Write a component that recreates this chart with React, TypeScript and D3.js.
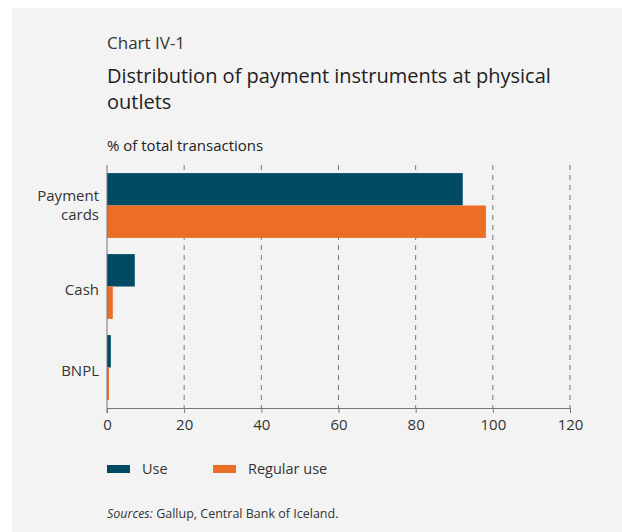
import React, { useRef, useEffect } from 'react';
import * as d3 from 'd3';

const categories = ['Payment cards', 'Cash', 'BNPL'];
const seriesNames = ['Use', 'Regular use'];
const useValues = [92.2, 7.2, 1.0];
const regularValues = [98.2, 1.5, 0.5];
const xTicks = [0, 20, 40, 60, 80, 100, 120];
const colors = ['#004a64', '#ec6e24'];

const WIDTH = 622;
const HEIGHT = 532;
const FONT = "'Open Sans', sans-serif";

const App: React.FC = () => {
  const svgRef = useRef<SVGSVGElement>(null);

  useEffect(() => {
    const svg = d3.select(svgRef.current);
    svg.selectAll('*').remove();

    // panel background
    svg.append('rect')
      .attr('x', 12).attr('y', 8)
      .attr('width', WIDTH - 12).attr('height', HEIGHT - 8)
      .attr('fill', '#f3f3f3');

    // titles
    svg.append('text')
      .attr('x', 107).attr('y', 49)
      .style('font-family', FONT).style('font-size', '17px')
      .style('fill', '#333')
      .text('Chart IV-1');

    svg.append('text')
      .attr('x', 107).attr('y', 83)
      .style('font-family', FONT).style('font-size', '20px')
      .style('fill', '#222')
      .text('Distribution of payment instruments at physical');
    svg.append('text')
      .attr('x', 107).attr('y', 109)
      .style('font-family', FONT).style('font-size', '20px')
      .style('fill', '#222')
      .text('outlets');

    svg.append('text')
      .attr('x', 107).attr('y', 151)
      .style('font-family', FONT).style('font-size', '15px')
      .style('fill', '#222')
      .text('% of total transactions');

    const margin = { top: 165, left: 107, right: 622 - 570, bottom: 532 - 408 };
    const innerWidth = WIDTH - margin.left - margin.right;
    const innerHeight = HEIGHT - margin.top - margin.bottom;

    const x = d3.scaleLinear().domain([0, 120]).range([0, innerWidth]);
    const y = d3.scaleBand<string>()
      .domain(categories)
      .range([0, innerHeight])
      .paddingInner(0.2)
      .paddingOuter(0.1);
    const ySub = d3.scaleBand<string>()
      .domain(seriesNames)
      .range([0, y.bandwidth()]);

    const g = svg.append('g')
      .attr('transform', `translate(${margin.left},${margin.top})`);

    // gridlines
    g.selectAll('.grid')
      .data(xTicks.filter(t => t > 0))
      .enter()
      .append('line')
      .attr('x1', d => x(d)).attr('x2', d => x(d))
      .attr('y1', 0).attr('y2', innerHeight)
      .attr('stroke', '#777')
      .attr('stroke-width', 1)
      .attr('stroke-dasharray', '5,5');

    // bars
    const rows = categories.map((c, i) => ({ c, vals: [useValues[i], regularValues[i]] }));
    rows.forEach(row => {
      row.vals.forEach((v, j) => {
        g.append('rect')
          .attr('x', x(0))
          .attr('y', (y(row.c) || 0) + (ySub(seriesNames[j]) || 0))
          .attr('width', x(v) - x(0))
          .attr('height', ySub.bandwidth())
          .attr('fill', colors[j]);
      });
    });

    // y axis line
    g.append('line')
      .attr('x1', x(0)).attr('x2', x(0))
      .attr('y1', 0).attr('y2', innerHeight + 5)
      .attr('stroke', '#777').attr('stroke-width', 1);

    // x axis
    const xAxis = g.append('g')
      .attr('transform', `translate(0,${innerHeight})`)
      .call(d3.axisBottom(x).tickValues(xTicks).tickSize(5).tickPadding(6).tickSizeOuter(0));
    xAxis.select('.domain').attr('stroke', '#777');
    xAxis.selectAll('.tick line').attr('stroke', '#777');
    xAxis.selectAll('.tick text')
      .style('font-family', FONT).style('font-size', '15px')
      .attr('fill', '#333');

    // category labels
    categories.forEach(c => {
      const words = c.split(' ');
      const cy = (y(c) || 0) + y.bandwidth() / 2;
      const t = g.append('text')
        .attr('text-anchor', 'end')
        .style('font-family', FONT).style('font-size', '15px')
        .style('fill', '#333');
      const lh = 19;
      const shift = words.length === 1 ? 3 : 0;
      words.forEach((w, i) => {
        t.append('tspan')
          .attr('x', -8)
          .attr('y', cy + 5 + shift + (i - (words.length - 1) / 2) * lh)
          .text(w);
      });
    });

    // legend
    const legendX = [107, 213];
    seriesNames.forEach((s, i) => {
      svg.append('rect')
        .attr('x', legendX[i]).attr('y', 465)
        .attr('width', 23).attr('height', 8)
        .attr('fill', colors[i]);
      svg.append('text')
        .attr('x', legendX[i] + 35).attr('y', 474)
        .style('font-family', FONT).style('font-size', '14.5px')
        .style('fill', '#333')
        .text(s);
    });

    // sources
    const src = svg.append('text')
      .attr('x', 107).attr('y', 518)
      .style('font-family', FONT).style('font-size', '12.5px')
      .style('fill', '#333');
    src.append('tspan').style('font-style', 'italic').text('Sources:');
    src.append('tspan').text(' Gallup, Central Bank of Iceland.');
  }, []);

  return (
    <svg
      ref={svgRef}
      width={WIDTH}
      height={HEIGHT}
      style={{ position: 'absolute', left: 0, top: 0, background: '#fff' }}
    />
  );
};

export default App;
